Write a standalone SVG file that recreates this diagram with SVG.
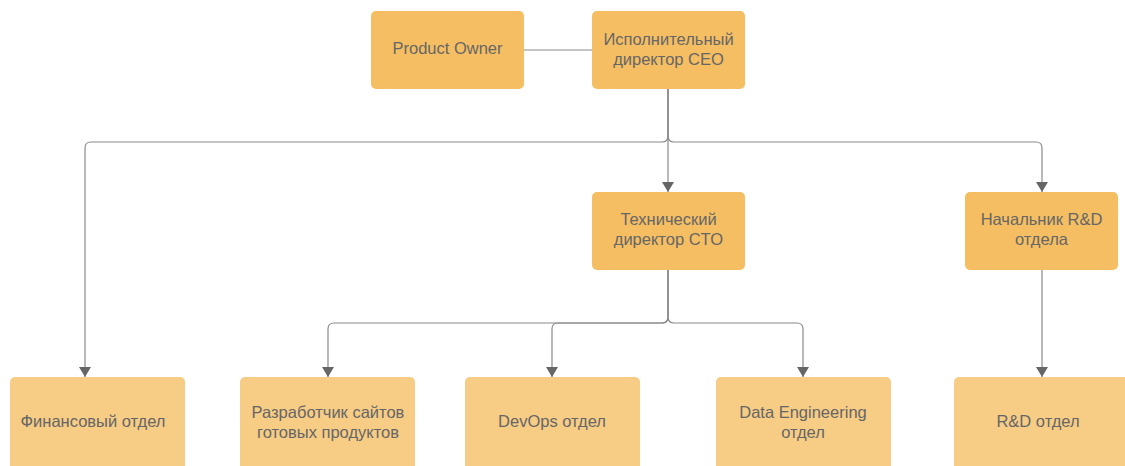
<svg xmlns="http://www.w3.org/2000/svg" width="1125" height="466" viewBox="0 0 1125 466">
<defs>
<marker id="arr" viewBox="0 0 10 12" refX="10" refY="6" markerWidth="10" markerHeight="12" markerUnits="userSpaceOnUse" orient="auto">
<path d="M0,0 L10,6 L0,12 Z" fill="#666"/>
</marker>
<style>
.top{fill:#F5BE63}
.bot{fill:#F7CC85}
.t{font-family:"Liberation Sans",Arial,sans-serif;font-size:16.5px;fill:#666;text-anchor:middle}
.c{fill:none;stroke:#8a8a8a;stroke-width:1.2}
</style>
</defs>
<rect width="1125" height="466" fill="#fff"/>
<g id="connectors">
<path class="c" d="M524,50 H592"/>
<path class="c" d="M668,89 V192" marker-end="url(#arr)"/>
<path class="c" d="M668,89 V136 Q668,142 662,142 H91 Q85,142 85,148 V377" marker-end="url(#arr)"/>
<path class="c" d="M668,89 V136 Q668,142 674,142 H1036 Q1042,142 1042,148 V192" marker-end="url(#arr)"/>
<path class="c" d="M668,270 V317 Q668,323 662,323 H334 Q328,323 328,329 V377" marker-end="url(#arr)"/>
<path class="c" d="M668,270 V317 Q668,323 662,323 H558 Q552,323 552,329 V377" marker-end="url(#arr)"/>
<path class="c" d="M668,270 V317 Q668,323 674,323 H797 Q803,323 803,329 V377" marker-end="url(#arr)"/>
<path class="c" d="M1042,270 V377" marker-end="url(#arr)"/>
</g>
<g id="product-owner"><rect class="top" x="371" y="11" width="153" height="78" rx="5"/><text class="t" x="447.5" y="54">Product Owner</text></g>
<g id="ceo"><rect class="top" x="592" y="11" width="153" height="78" rx="5"/><text class="t" x="668.5" y="45">Исполнительный</text><text class="t" x="668.5" y="65">директор CEO</text></g>
<g id="cto"><rect class="top" x="592" y="192" width="153" height="78" rx="5"/><text class="t" x="668.5" y="225">Технический</text><text class="t" x="668.5" y="245">директор CTO</text></g>
<g id="rd-head"><rect class="top" x="965" y="192" width="153" height="78" rx="5"/><text class="t" x="1041.5" y="225">Начальник R&amp;D</text><text class="t" x="1041.5" y="245">отдела</text></g>
<g id="finance"><rect class="bot" x="10" y="377" width="175" height="100" rx="5"/><text class="t" x="93" y="427">Финансовый отдел</text></g>
<g id="web-dev"><rect class="bot" x="240" y="377" width="175" height="100" rx="5"/><text class="t" x="328" y="418">Разработчик сайтов</text><text class="t" x="328" y="438">готовых продуктов</text></g>
<g id="devops"><rect class="bot" x="465" y="377" width="175" height="100" rx="5"/><text class="t" x="552" y="427">DevOps отдел</text></g>
<g id="data-eng"><rect class="bot" x="716" y="377" width="175" height="100" rx="5"/><text class="t" x="803" y="418">Data Engineering</text><text class="t" x="803" y="438">отдел</text></g>
<g id="rd-dept"><rect class="bot" x="954" y="377" width="176" height="100" rx="5"/><text class="t" x="1038" y="427">R&amp;D отдел</text></g>
</svg>
